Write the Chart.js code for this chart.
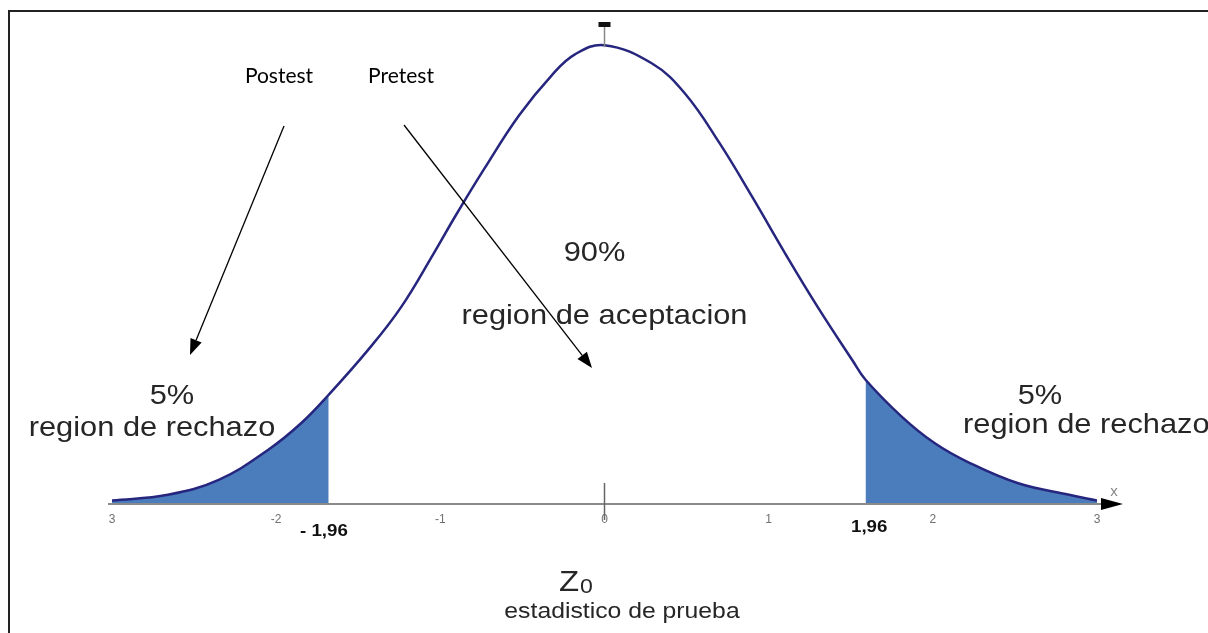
<!DOCTYPE html>
<html>
<head>
<meta charset="utf-8">
<script src="https://cdn.jsdelivr.net/npm/chart.js@4.4.1/dist/chart.umd.min.js"></script>
<style>
  body { margin: 0; background: #fff; }
</style>
</head>
<body>
<canvas id="myChart" width="1208" height="633"></canvas>
<script>
// curve (z, relative height)
var curveX = [-3.0, -2.66, -2.35, -2.05, -1.85, -1.68, -1.44, -1.24, -1.04, -0.91, -0.73, -0.52, -0.32, -0.18, 0,
              0.29, 0.49, 0.70, 0.90, 1.10, 1.30, 1.51, 1.59, 1.81, 2.01, 2.22, 2.52, 2.83, 3.0];
var curveY = [0.003, 0.008, 0.021, 0.047, 0.070, 0.095, 0.134, 0.171, 0.218, 0.250, 0.292, 0.338, 0.373, 0.391, 0.399,
              0.383, 0.357, 0.314, 0.267, 0.218, 0.171, 0.125, 0.108, 0.076, 0.053, 0.036, 0.018, 0.008, 0.003];
// where the shaded tails stop, as drawn
var leftCut = -1.68;
var rightCut = 1.59;
var tickValues = [-3, -2, -1, 0, 1, 2, 3];
var tickLabels = ['3', '-2', '-1', '0', '1', '2', '3'];

var curve = curveX.map(function(x, i) { return {x: x, y: curveY[i]}; });
var leftTail = curve.filter(function(p) { return p.x <= leftCut; });
var rightTail = curve.filter(function(p) { return p.x >= rightCut; });

var ARIAL = '"Liberation Sans", Arial, sans-serif';

function txt(ctx, s, x, y, font, color, align, sx) {
	ctx.save();
	ctx.font = font;
	ctx.fillStyle = color;
	ctx.textAlign = align || 'center';
	ctx.textBaseline = 'middle';
	ctx.translate(x, y);
	ctx.scale(sx || 1, 1);
	ctx.fillText(s, 0, 0);
	ctx.restore();
}

function arrow(ctx, x1, y1, x2, y2) {
	var a = Math.atan2(y2 - y1, x2 - x1);
	var len = 16, w = 6;
	ctx.save();
	ctx.strokeStyle = '#000';
	ctx.fillStyle = '#000';
	ctx.lineWidth = 1.3;
	ctx.beginPath();
	ctx.moveTo(x1, y1);
	ctx.lineTo(x2 - len * Math.cos(a), y2 - len * Math.sin(a));
	ctx.stroke();
	ctx.beginPath();
	ctx.moveTo(x2, y2);
	ctx.lineTo(x2 - len * Math.cos(a) + w * Math.sin(a), y2 - len * Math.sin(a) - w * Math.cos(a));
	ctx.lineTo(x2 - len * Math.cos(a) - w * Math.sin(a), y2 - len * Math.sin(a) + w * Math.cos(a));
	ctx.closePath();
	ctx.fill();
	ctx.restore();
}

var decor = {
	id: 'decor',
	beforeDraw: function(chart) {
		var ctx = chart.ctx;
		ctx.save();
		ctx.fillStyle = '#fff';
		ctx.fillRect(0, 0, chart.width, chart.height);
		// frame top and left
		ctx.strokeStyle = '#222';
		ctx.lineWidth = 2;
		ctx.beginPath();
		ctx.moveTo(chart.width, 11);
		ctx.lineTo(9, 11);
		ctx.lineTo(9, chart.height);
		ctx.stroke();
		ctx.restore();
	},
	afterDraw: function(chart) {
		var ctx = chart.ctx;
		var xs = chart.scales.x, ys = chart.scales.y;
		var base = ys.getPixelForValue(0);
		var x0 = xs.getPixelForValue(0);
		var xEnd = xs.getPixelForValue(3);

		ctx.save();
		// axis extension with arrow
		ctx.strokeStyle = '#8a8a8a';
		ctx.lineWidth = 2;
		ctx.beginPath();
		ctx.moveTo(xs.getPixelForValue(-3) - 4, base);
		ctx.lineTo(xEnd + 8, base);
		ctx.stroke();
		ctx.fillStyle = '#000';
		ctx.beginPath();
		ctx.moveTo(xEnd + 26, base);
		ctx.lineTo(xEnd + 4, base - 6);
		ctx.lineTo(xEnd + 4, base + 6);
		ctx.closePath();
		ctx.fill();
		// zero line
		ctx.strokeStyle = '#666';
		ctx.lineWidth = 1.5;
		ctx.beginPath();
		ctx.moveTo(x0, base - 21);
		ctx.lineTo(x0, base + 16);
		ctx.stroke();
		// peak marker
		var top = ys.getPixelForValue(0.399);
		ctx.strokeStyle = '#888';
		ctx.beginPath();
		ctx.moveTo(x0, top + 2);
		ctx.lineTo(x0, 26);
		ctx.stroke();
		ctx.fillStyle = '#111';
		ctx.fillRect(x0 - 6, 22, 12, 5);
		ctx.restore();

		txt(ctx, 'x', xEnd + 17, base - 12, '15px ' + ARIAL, '#888');

		// annotations
		txt(ctx, 'Postest', 279, 76, '21px Lato, "Open Sans", sans-serif', '#000');
		txt(ctx, 'Pretest', 401, 76, '21px Lato, "Open Sans", sans-serif', '#000');
		arrow(ctx, 284, 126, 190, 355);
		arrow(ctx, 404, 125, 592, 368);

		var big = '28px ' + ARIAL, dark = '#262626', sx = 1.1;
		txt(ctx, '90%', x0 - 10, 253, big, dark, 'center', sx);
		txt(ctx, 'region de aceptacion', x0, 316, big, dark, 'center', sx);
		txt(ctx, '5%', 172, 396, big, dark, 'center', sx);
		txt(ctx, 'region de rechazo', 152, 428, big, dark, 'center', sx);
		txt(ctx, '5%', 1040, 396, big, dark, 'center', sx);
		txt(ctx, 'region de rechazo', 963, 425, big, dark, 'left', sx);

		txt(ctx, '- 1,96', 300, 531, 'bold 17px ' + ARIAL, '#111', 'left', sx);
		txt(ctx, '1,96', 851, 527, 'bold 17px ' + ARIAL, '#111', 'left', sx);

		txt(ctx, 'Z', 559, 583, '30px ' + ARIAL, dark, 'left', sx);
		txt(ctx, '0', 580, 587, '21px ' + ARIAL, dark, 'left', sx);
		txt(ctx, 'estadistico de prueba', 622, 612, '22.5px ' + ARIAL, dark, 'center', sx);
	}
};

var ctx = document.getElementById('myChart').getContext('2d');
var chart = new Chart(ctx, {
	type: 'line',
	data: {
		datasets: [{
			data: curve,
			borderColor: '#26267f',
			borderWidth: 2.5,
			pointRadius: 0,
			fill: false,
			tension: 0.4,
			order: 0
		}, {
			data: leftTail,
			borderWidth: 0,
			backgroundColor: '#4b7dbd',
			pointRadius: 0,
			fill: 'origin',
			tension: 0.4,
			order: 1
		}, {
			data: rightTail,
			borderWidth: 0,
			backgroundColor: '#4b7dbd',
			pointRadius: 0,
			fill: 'origin',
			tension: 0.4,
			order: 1
		}]
	},
	options: {
		responsive: false,
		animation: false,
		layout: { padding: { left: 112, right: 111, top: 21, bottom: 0 } },
		plugins: { legend: { display: false }, tooltip: { enabled: false } },
		scales: {
			x: {
				type: 'linear',
				min: -3,
				max: 3,
				afterBuildTicks: function(scale) {
					scale.ticks = tickValues.map(function(v) { return {value: v}; });
				},
				afterFit: function(scale) { scale.height = 129; },
				grid: { drawOnChartArea: false, drawTicks: false },
				border: { color: '#8a8a8a', width: 2 },
				ticks: {
					padding: 8,
					color: '#707070',
					font: { size: 12, family: ARIAL },
					callback: function(v) { return tickLabels[tickValues.indexOf(v)]; }
				}
			},
			y: {
				display: false,
				min: 0,
				max: 0.42
			}
		}
	},
	plugins: [decor]
});
</script>
</body>
</html>
